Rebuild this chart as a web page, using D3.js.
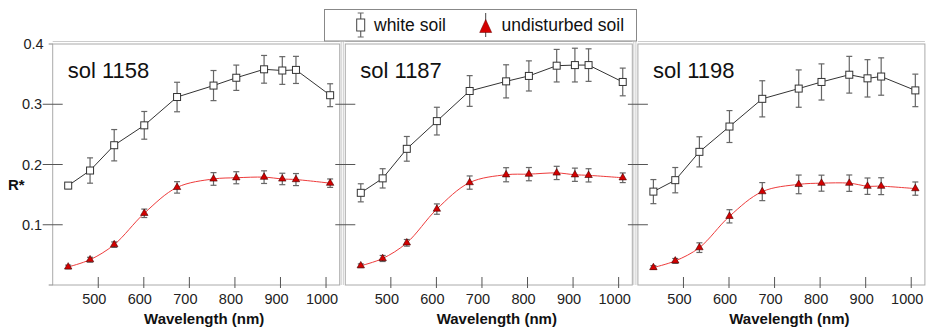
<!DOCTYPE html>
<html>
<head>
<meta charset="utf-8">
<script src="https://cdn.jsdelivr.net/npm/d3@7/dist/d3.min.js"></script>
<style>
  html, body { margin: 0; padding: 0; background: #fff; }
  svg { display: block; font-family: "Liberation Sans", Arial, Helvetica, sans-serif; }
</style>
</head>
<body>
<svg id="chart" width="927" height="331"></svg>
<script>
// Pancam filter wavelengths (nm)
const wavelengths = [434, 482, 535, 601, 673, 753, 803, 864, 904, 934, 1009];
const panelNames = ["sol 1158", "sol 1187", "sol 1198"];
const seriesNames = ["white soil", "undisturbed soil"];

// Reflectance R* of white soil, one row per sol
const whiteSoil = [
  [0.165, 0.190, 0.232, 0.265, 0.312, 0.331, 0.344, 0.358, 0.356, 0.357, 0.315],
  [0.153, 0.177, 0.226, 0.272, 0.322, 0.338, 0.347, 0.364, 0.365, 0.365, 0.337],
  [0.155, 0.174, 0.221, 0.263, 0.309, 0.326, 0.337, 0.349, 0.343, 0.346, 0.323]
];
const whiteSoilErr = [
  [0.005, 0.021, 0.026, 0.023, 0.0245, 0.025, 0.021, 0.023, 0.023, 0.0225, 0.019],
  [0.015, 0.016, 0.0205, 0.023, 0.0255, 0.0275, 0.025, 0.027, 0.028, 0.027, 0.023],
  [0.020, 0.021, 0.025, 0.0265, 0.030, 0.031, 0.030, 0.0305, 0.031, 0.031, 0.027]
];

// Reflectance R* of undisturbed soil, one row per sol
const undisturbedSoil = [
  [0.030, 0.042, 0.067, 0.119, 0.162, 0.176, 0.178, 0.179, 0.176, 0.175, 0.169],
  [0.032, 0.044, 0.070, 0.126, 0.170, 0.183, 0.184, 0.186, 0.183, 0.182, 0.178],
  [0.029, 0.040, 0.062, 0.114, 0.155, 0.167, 0.169, 0.169, 0.164, 0.164, 0.160]
];
const undisturbedSoilErr = [
  [0.003, 0.004, 0.0045, 0.007, 0.0095, 0.0105, 0.010, 0.0105, 0.0095, 0.010, 0.007],
  [0.003, 0.005, 0.0055, 0.0086, 0.011, 0.0117, 0.011, 0.011, 0.011, 0.011, 0.008],
  [0.003, 0.004, 0.008, 0.011, 0.015, 0.0155, 0.0133, 0.0136, 0.0136, 0.014, 0.011]
];

const xTicks = [500, 600, 700, 800, 900, 1000];
const yTicks = [0.1, 0.2, 0.3, 0.4];
const xDomain = [400, 1030];
const yDomain = [0, 0.4];

// ---- layout ----
const svg = d3.select("#chart");
const plotTop = 44, plotBottom = 285;
const panelW = 287, panelStep = 292.6, firstLeft = 52.7;
const frameColor = "#aaa";
const errColor = "#666";
const whiteLine = "#333";
const redLine = "#ee3b3b";
const redFill = "#d40000";

const y = d3.scaleLinear().domain(yDomain).range([plotBottom, plotTop]);

panelNames.forEach((name, p) => {
  const left = firstLeft + p * panelStep;
  const x = d3.scaleLinear().domain(xDomain).range([left, left + panelW]);
  const g = svg.append("g");

  // outer light frame lines
  g.append("line").attr("x1", left).attr("x2", left + panelW)
    .attr("y1", plotTop - 2.5).attr("y2", plotTop - 2.5)
    .attr("stroke", "#ccc").attr("stroke-width", 1);
  if (p > 0) {
    g.append("line").attr("x1", left - 2).attr("x2", left - 2)
      .attr("y1", plotTop - 2.5).attr("y2", plotBottom)
      .attr("stroke", "#ccc");
  }
  if (p < panelNames.length - 1) {
    g.append("line").attr("x1", left + panelW + 1.5).attr("x2", left + panelW + 1.5)
      .attr("y1", plotTop - 2.5).attr("y2", plotBottom)
      .attr("stroke", "#ccc");
  }

  // frame
  g.append("rect")
    .attr("x", left).attr("y", plotTop)
    .attr("width", panelW).attr("height", plotBottom - plotTop)
    .attr("fill", "none").attr("stroke", frameColor).attr("stroke-width", 1);

  // y ticks crossing the left edge
  g.selectAll(".yt").data(yTicks.filter(d => d < 0.4)).enter().append("line")
    .attr("x1", left - 10).attr("x2", left + 10)
    .attr("y1", d => y(d)).attr("y2", d => y(d))
    .attr("stroke", "#555").attr("stroke-width", 1);

  if (p === 0) {
    // short ticks at the corners
    [0, 0.4].forEach(v => {
      g.append("line").attr("x1", left - 4).attr("x2", left)
        .attr("y1", y(v)).attr("y2", y(v)).attr("stroke", "#888");
    });
    g.selectAll(".yl").data(yTicks).enter().append("text")
      .attr("x", d => d === 0.4 ? left - 9 : left - 10.5)
      .attr("y", d => y(d)).attr("dy", "0.35em")
      .attr("text-anchor", "end")
      .attr("font-size", 14.5).attr("fill", "#222")
      .text(d => d3.format(".1f")(d));
  }

  // x ticks
  g.selectAll(".xt").data(xTicks).enter().append("line")
    .attr("x1", d => x(d)).attr("x2", d => x(d))
    .attr("y1", plotBottom - 8).attr("y2", plotBottom + 3)
    .attr("stroke", "#555");
  g.selectAll(".xl").data(xTicks).enter().append("text")
    .attr("x", d => x(d) - 4).attr("y", plotBottom + 19)
    .attr("text-anchor", "middle")
    .attr("font-size", 14.5).attr("fill", "#222")
    .text(d => d);

  // axis title
  g.append("text")
    .attr("x", left + panelW / 2 + 8).attr("y", 324)
    .attr("text-anchor", "middle")
    .attr("font-size", 15).attr("font-weight", "bold").attr("fill", "#111")
    .text("Wavelength (nm)");

  // panel label
  g.append("text")
    .attr("x", left + 15).attr("y", 78)
    .attr("font-size", 22).attr("fill", "#111")
    .text(name);

  const seriesSets = [
    { vals: whiteSoil[p], errs: whiteSoilErr[p], line: whiteLine, curve: d3.curveLinear, kind: "square" },
    { vals: undisturbedSoil[p], errs: undisturbedSoilErr[p], line: redLine, curve: d3.curveCatmullRom.alpha(0.5), kind: "triangle" }
  ];

  seriesSets.forEach(s => {
    const pts = wavelengths.map((w, i) => ({ w, v: s.vals[i], e: s.errs[i] }));
    const line = d3.line().x(d => x(d.w)).y(d => y(d.v)).curve(s.curve);
    g.append("path").datum(pts)
      .attr("d", line).attr("fill", "none")
      .attr("stroke", s.line).attr("stroke-width", 1);

    // error bars
    const eb = g.selectAll(null).data(pts).enter().append("g").attr("stroke", errColor).attr("stroke-width", 1.2);
    eb.append("line").attr("x1", d => x(d.w)).attr("x2", d => x(d.w))
      .attr("y1", d => y(d.v - d.e)).attr("y2", d => y(d.v + d.e));
    eb.append("line").attr("x1", d => x(d.w) - 3).attr("x2", d => x(d.w) + 3)
      .attr("y1", d => y(d.v - d.e)).attr("y2", d => y(d.v - d.e));
    eb.append("line").attr("x1", d => x(d.w) - 3).attr("x2", d => x(d.w) + 3)
      .attr("y1", d => y(d.v + d.e)).attr("y2", d => y(d.v + d.e));

    if (s.kind === "square") {
      g.selectAll(null).data(pts).enter().append("rect")
        .attr("x", d => x(d.w) - 3.5).attr("y", d => y(d.v) - 3.5)
        .attr("width", 7).attr("height", 7)
        .attr("fill", "#fff").attr("stroke", "#333").attr("stroke-width", 1);
    } else {
      const tri = d3.symbol().type(d3.symbolTriangle).size(24);
      g.selectAll(null).data(pts).enter().append("path")
        .attr("d", tri)
        .attr("transform", d => `translate(${x(d.w)},${y(d.v)})`)
        .attr("fill", redFill).attr("stroke", "#400").attr("stroke-width", 0.6);
    }
  });
});

// R* axis title
svg.append("text")
  .attr("x", 8).attr("y", 190)
  .attr("font-size", 15).attr("font-weight", "bold").attr("fill", "#111")
  .text("R*");

// ---- legend ----
const lg = svg.append("g");
lg.append("rect")
  .attr("x", 324.5).attr("y", 9.5).attr("width", 312).attr("height", 31.5)
  .attr("fill", "#fff").attr("stroke", "#888").attr("stroke-width", 1);

// white soil key
lg.append("line").attr("x1", 360.7).attr("x2", 360.7).attr("y1", 13).attr("y2", 37)
  .attr("stroke", errColor).attr("stroke-width", 1.2);
lg.append("line").attr("x1", 357.7).attr("x2", 363.7).attr("y1", 13).attr("y2", 13).attr("stroke", errColor);
lg.append("line").attr("x1", 357.7).attr("x2", 363.7).attr("y1", 37).attr("y2", 37).attr("stroke", errColor);
lg.append("rect").attr("x", 356.7).attr("y", 19).attr("width", 8).attr("height", 12)
  .attr("fill", "#fff").attr("stroke", "#444");
lg.append("text").attr("x", 374).attr("y", 31)
  .attr("font-size", 17.5).attr("fill", "#111").text(seriesNames[0]);

// undisturbed soil key
lg.append("line").attr("x1", 485.7).attr("x2", 485.7).attr("y1", 13).attr("y2", 37)
  .attr("stroke", "#444").attr("stroke-width", 1);
lg.append("path")
  .attr("d", "M485.7,19.5 L491.7,32.5 L479.7,32.5 Z")
  .attr("fill", redFill).attr("stroke", "#600").attr("stroke-width", 0.5);
lg.append("text").attr("x", 501.5).attr("y", 31)
  .attr("font-size", 17.5).attr("fill", "#111").text(seriesNames[1]);
</script>
</body>
</html>
